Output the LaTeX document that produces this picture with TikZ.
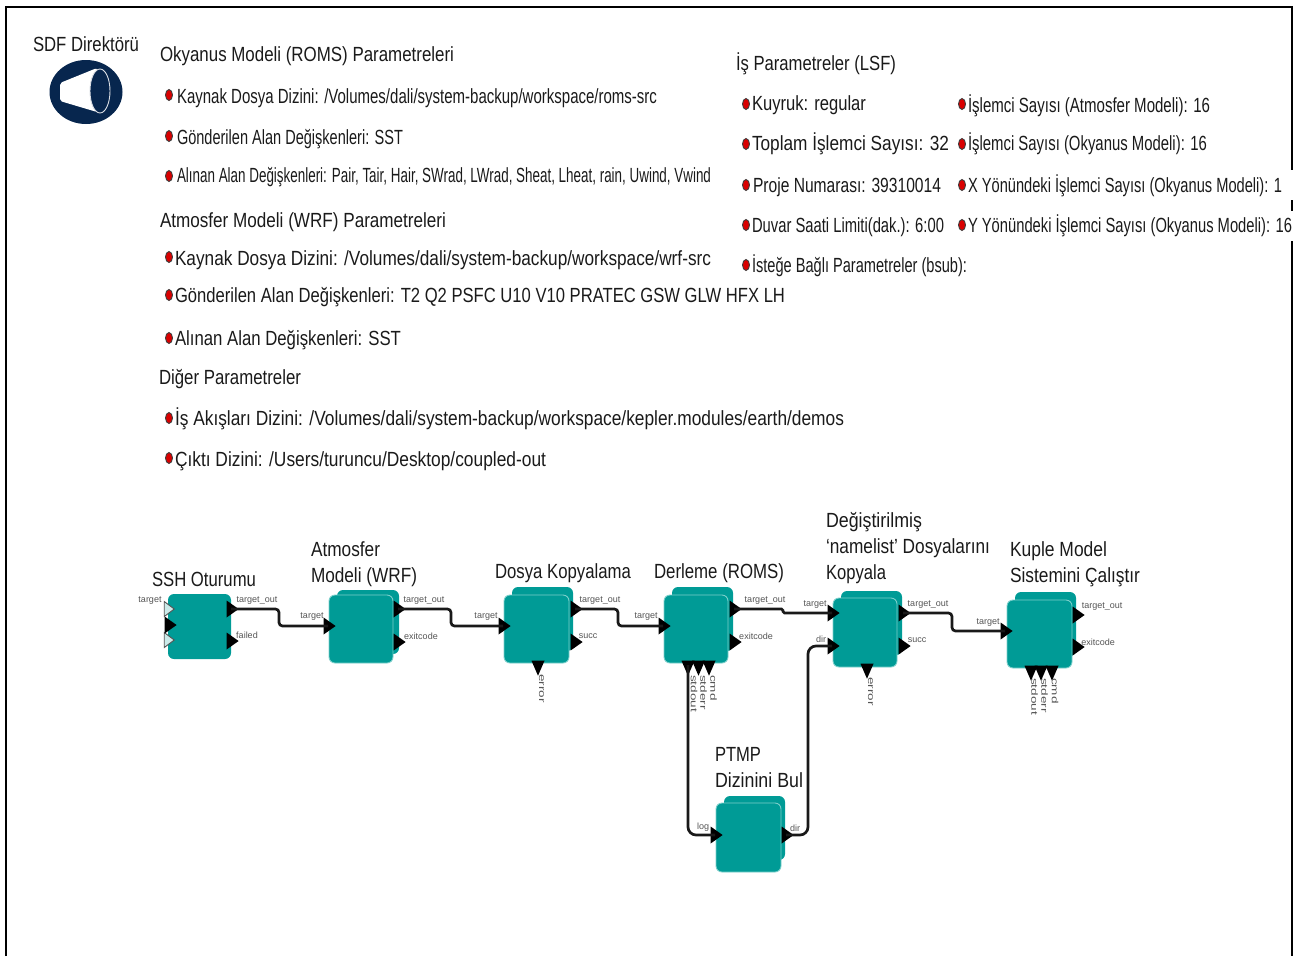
\documentclass[tikz,border=0pt]{standalone}
\usepackage{fontspec}
\usepackage{graphicx}
\setmainfont{Liberation Sans}
\usetikzlibrary{shapes.geometric}
\definecolor{teal1}{HTML}{009B96}
\definecolor{teal2}{HTML}{7CCFCB}
\definecolor{navy1}{HTML}{07264E}
\definecolor{ink}{HTML}{1A1A1A}
\definecolor{plab}{HTML}{555555}
\tikzset{
  x=1pt,y=-1pt,
  txt/.style={anchor=base west,inner sep=0,outer sep=0,text=ink,font=\fontsize{20.5}{23}\selectfont},
  plabel/.style={inner sep=0,outer sep=0,text=plab,font=\fontsize{9}{10}\selectfont},
  plabelv/.style={plabel,rotate=-90,anchor=west},
  backblock/.style={fill=teal1,rounded corners=6pt,inner sep=0,draw=none},
  frontblock/.style={fill=teal1,draw=teal2,line width=0.9pt,rounded corners=6pt,inner sep=0},
  port/.style={isosceles triangle,isosceles triangle stretches,isosceles triangle apex angle=70,minimum width=17pt,minimum height=12pt,inner sep=0,outer sep=0,fill=black},
  portr/.style={port,shape border rotate=0},
  portd/.style={port,shape border rotate=-90,minimum width=13pt,minimum height=15pt},
  openport/.style={port,fill=white!80!teal1,draw=plab,line width=0.9pt,minimum width=15pt,minimum height=10pt},
  wire/.style={draw=black!90,line width=2.7pt,rounded corners=3.5pt},
  bullet/.style={ellipse,fill=red!85!black,draw=black!75,line width=0.9pt,inner sep=0,minimum width=7pt,minimum height=11pt},
  frameline/.style={draw=black,line width=2pt},
}
\newcommand{\tx}[5]{\node[txt] (#1) at (#2,#3+6.5) {\resizebox{#4pt}{\height}{#5}};}
\newcommand{\vl}[1]{\scalebox{1.5}[1]{#1}}
\begin{document}
\begin{tikzpicture}
\useasboundingbox (0,0) rectangle (1303,956);
% frame
\coordinate (f1) at (6,956); \coordinate (f2) at (6,7); \coordinate (f3) at (1292,7);
\coordinate (f4) at (1292,170); \coordinate (f5) at (1292,200); \coordinate (f6) at (1292,211);
\coordinate (f7) at (1292,241); \coordinate (f8) at (1292,956);
\draw[frameline] (f1) -- (f2) -- (f3) -- (f4);
\draw[frameline] (f5) -- (f6);
\draw[frameline] (f7) -- (f8);
% director icon
\node[ellipse,fill=navy1,inner sep=0,minimum width=73pt,minimum height=64pt] (sdf) at (86,92) {};
\fill[white,rounded corners=2pt] (60,83) -- (97,68) -- (97,112) -- (60,101) -- cycle;
\node[ellipse,fill=navy1,draw=white!85!navy1,line width=0.9pt,inner sep=0,minimum width=20pt,minimum height=44pt] (sdfring) at (100,91) {};
% texts
\tx{t1}{33}{45}{106}{SDF Direktörü}
\tx{t2}{160}{55}{294}{Okyanus Modeli (ROMS) Parametreleri}
\tx{t3}{177}{97}{480}{Kaynak Dosya Dizini: /Volumes/dali/system-backup/workspace/roms-src}
\tx{t4}{177}{138}{226}{Gönderilen Alan Değişkenleri: SST}
\tx{t5}{177}{176}{534}{Alınan Alan Değişkenleri: Pair, Tair, Hair, SWrad, LWrad, Sheat, Lheat, rain, Uwind, Vwind}
\tx{t6}{160}{221}{286}{Atmosfer Modeli (WRF) Parametreleri}
\tx{t7}{175}{259}{536}{Kaynak Dosya Dizini: /Volumes/dali/system-backup/workspace/wrf-src}
\tx{t8}{175}{296}{610}{Gönderilen Alan Değişkenleri: T2 Q2 PSFC U10 V10 PRATEC GSW GLW HFX LH}
\tx{t9}{175}{339}{226}{Alınan Alan Değişkenleri: SST}
\tx{t10}{159}{378}{142}{Diğer Parametreler}
\tx{t11}{175}{419}{669}{İş Akışları Dizini: /Volumes/dali/system-backup/workspace/kepler.modules/earth/demos}
\tx{t12}{175}{460}{371}{Çıktı Dizini: /Users/turuncu/Desktop/coupled-out}
\tx{t13}{736}{64}{160}{İş Parametreler (LSF)}
\tx{t14}{752}{104}{114}{Kuyruk: regular}
\tx{t15}{752}{144}{197}{Toplam İşlemci Sayısı: 32}
\tx{t16}{753}{185.5}{188}{Proje Numarası: 39310014}
\tx{t17}{752}{225.5}{192}{Duvar Saati Limiti(dak.): 6:00}
\tx{t18}{752}{265.5}{215}{İsteğe Bağlı Parametreler (bsub):}
\tx{t19}{968}{105.5}{242}{İşlemci Sayısı (Atmosfer Modeli): 16}
\tx{t20}{968}{144}{239}{İşlemci Sayısı (Okyanus Modeli): 16}
\tx{t21}{968}{185.5}{314}{X Yönündeki İşlemci Sayısı (Okyanus Modeli): 1}
\tx{t22}{968}{225.5}{324}{Y Yönündeki İşlemci Sayısı (Okyanus Modeli): 16}
% bullets
\foreach \n/\x/\y in {b1/169/95,b2/169/136,b3/169/176,b4/169/257,b5/169/295,b6/169/338,b7/169/418,b8/169/458,
  b9/746/104,b10/746/144,b11/746/185,b12/746/225,b13/746/265,b14/962/104,b15/962/144,b16/962/185,b17/962/225}
  \node[bullet] (\n) at (\x,\y) {};
% block captions
\tx{c1}{152}{580}{104}{SSH Oturumu}
\tx{c2}{311}{550}{69}{Atmosfer}
\tx{c3}{311}{576}{106}{Modeli (WRF)}
\tx{c4}{495}{572}{136}{Dosya Kopyalama}
\tx{c5}{654}{572}{130}{Derleme (ROMS)}
\tx{c6}{826}{521}{96}{Değiştirilmiş}
\tx{c7}{826}{547}{164}{‘namelist’ Dosyalarını}
\tx{c8}{826}{573}{60}{Kopyala}
\tx{c9}{1010}{550}{97}{Kuple Model}
\tx{c10}{1010}{576}{130}{Sistemini Çalıştır}
\tx{c11}{715}{755}{46}{PTMP}
\tx{c12}{715}{781}{88}{Dizinini Bul}
% blocks
\node[backblock,minimum width=63pt,minimum height=65pt] (ssh) at (199.5,626.5) {};
\node[backblock,minimum width=62pt,minimum height=64pt] (wrfb) at (368,622) {};
\node[frontblock,minimum width=64pt,minimum height=68pt] (wrf) at (361,629) {};
\node[backblock,minimum width=61pt,minimum height=64pt] (cpb) at (542.5,619) {};
\node[frontblock,minimum width=65pt,minimum height=68pt] (cp) at (536.5,629) {};
\node[backblock,minimum width=61pt,minimum height=64pt] (romsb) at (702.5,619) {};
\node[frontblock,minimum width=64pt,minimum height=68pt] (roms) at (696,629) {};
\node[backblock,minimum width=61pt,minimum height=64pt] (nlb) at (871.5,623) {};
\node[frontblock,minimum width=64pt,minimum height=69pt] (nl) at (865,632.5) {};
\node[backblock,minimum width=61pt,minimum height=64pt] (runb) at (1045.5,624) {};
\node[frontblock,minimum width=65pt,minimum height=68pt] (run) at (1039.5,634) {};
\node[backblock,minimum width=61pt,minimum height=64pt] (ptmpb) at (754.5,828) {};
\node[frontblock,minimum width=65pt,minimum height=69pt] (ptmp) at (748.5,837.5) {};
% ports
\node[openport] (sshT1) at (168,609) {};
\node[openport] (sshT3) at (168,640) {};
\node[portr] (sshT2) at (169,625) {};
\node[portr] (sshOut) at (231,609) {};
\node[portr] (sshFail) at (231,641) {};
\node[portr] (wrfIn) at (328,626) {};
\node[portr] (wrfOut) at (398,609) {};
\node[portr] (wrfExit) at (398,642) {};
\node[portr] (cpIn) at (503,626) {};
\node[portr] (cpOut) at (575,609) {};
\node[portr] (cpSucc) at (575,642) {};
\node[portd] (cpErr) at (538,665) {};
\node[portr] (romsIn) at (663,626) {};
\node[portr] (romsOut) at (734,609) {};
\node[portr] (romsExit) at (734,642) {};
\node[portd] (romsStdout) at (688,665) {};
\node[portd] (romsStderr) at (698.5,665) {};
\node[portd] (romsCmd) at (709,665) {};
\node[portr] (nlIn) at (832,613) {};
\node[portr] (nlDir) at (832,646) {};
\node[portr] (nlOut) at (903,613) {};
\node[portr] (nlSucc) at (903,646) {};
\node[portd] (nlErr) at (867,668) {};
\node[portr] (runIn) at (1005,631) {};
\node[portr] (runOut) at (1077,615) {};
\node[portr] (runExit) at (1077,647) {};
\node[portd] (runStdout) at (1031,670) {};
\node[portd] (runStderr) at (1041,670) {};
\node[portd] (runCmd) at (1052,670) {};
\node[portr] (ptmpLog) at (715,835) {};
\node[portr] (ptmpDir) at (786,835) {};
% wires
\draw[wire] (sshOut.center) -- ++(48,0) |- (wrfIn.center);
\draw[wire] (wrfOut.center) -- ++(53,0) |- (cpIn.center);
\draw[wire] (cpOut.center) -- ++(43,0) |- (romsIn.center);
\draw[wire,rounded corners=1.5pt] (romsOut.center) -- ++(49,0) |- (nlIn.center);
\draw[wire] (nlOut.center) -- ++(49,0) |- (runIn.center);
\draw[wire,rounded corners=8pt] (romsStdout.center) |- (ptmpLog.center);
\draw[wire,rounded corners=8pt] (ptmpDir.center) -- ++(22,0) |- (nlDir.center);
% port labels
\node[plabel] (l1) at (150,601) {target};
\node[plabel] (l2) at (257,601) {target\_out};
\node[plabel] (l3) at (247,635) {failed};
\node[plabel] (l4) at (312,617) {target};
\node[plabel] (l5) at (424,601) {target\_out};
\node[plabel] (l6) at (421,636) {exitcode};
\node[plabel] (l7) at (486,617) {target};
\node[plabel] (l8) at (600,601) {target\_out};
\node[plabel] (l9) at (588,636) {succ};
\node[plabel] (l10) at (646,617) {target};
\node[plabel] (l11) at (765,601) {target\_out};
\node[plabel] (l12) at (756,636) {exitcode};
\node[plabel] (l13) at (815,605) {target};
\node[plabel] (l14) at (821,639) {dir};
\node[plabel] (l15) at (928,605) {target\_out};
\node[plabel] (l16) at (917,640) {succ};
\node[plabel] (l17) at (988,623) {target};
\node[plabel] (l18) at (1102,607) {target\_out};
\node[plabel] (l19) at (1098,642) {exitcode};
\node[plabel] (l20) at (703,827) {log};
\node[plabel] (l21) at (795,828) {dir};
\node[plabelv] (v1) at (541.5,674) {\vl{error}};
\node[plabelv] (v2) at (694,675) {\vl{stdout}};
\node[plabelv] (v3) at (703.5,675) {\vl{stderr}};
\node[plabelv] (v4) at (713.5,675) {\vl{cmd}};
\node[plabelv] (v5) at (870.5,677) {\vl{error}};
\node[plabelv] (v6) at (1034.5,678) {\vl{stdout}};
\node[plabelv] (v7) at (1044.5,678) {\vl{stderr}};
\node[plabelv] (v8) at (1055,678) {\vl{cmd}};
\end{tikzpicture}
\end{document}
